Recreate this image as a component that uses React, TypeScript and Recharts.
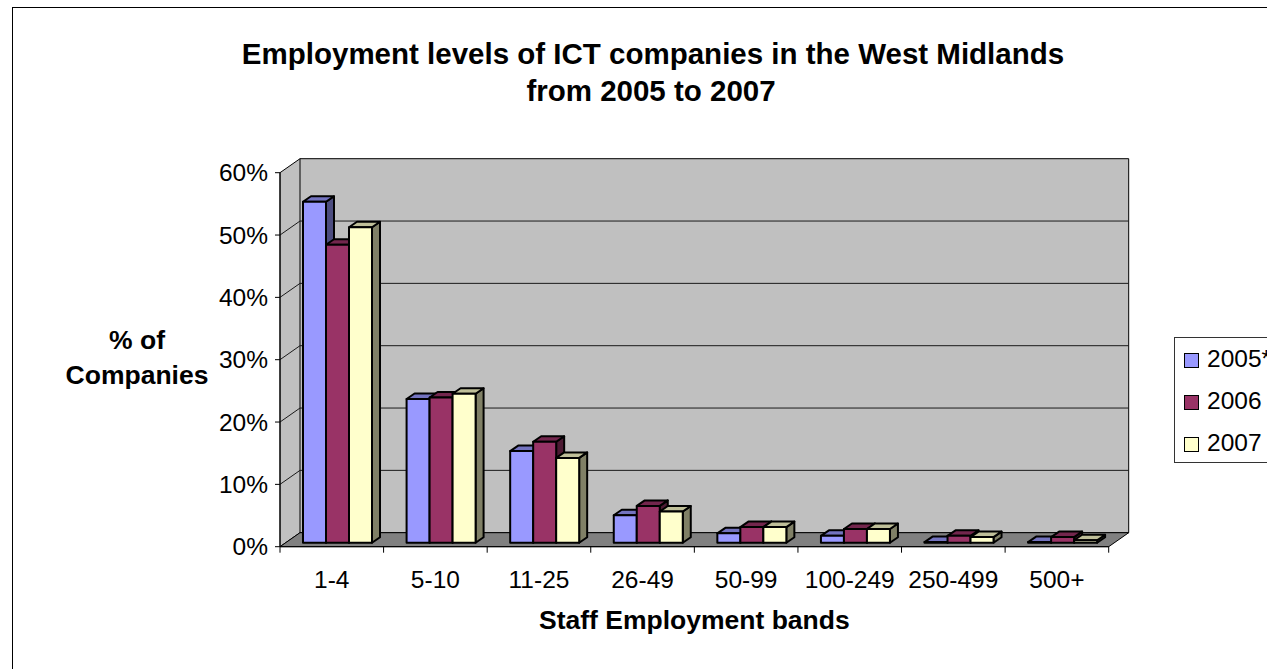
import { Bar, BarChart, Legend, ReferenceArea, XAxis, YAxis } from "recharts"

const bands = ["1-4", "5-10", "11-25", "26-49", "50-99", "100-249", "250-499", "500+"]
const values2005 = [54.7, 23.05, 14.7, 4.4, 1.5, 1.1, 0.1, 0.1]
const values2006 = [47.8, 23.3, 16.2, 5.9, 2.5, 2.2, 1.1, 0.9]
const values2007 = [50.6, 23.9, 13.6, 5.0, 2.5, 2.2, 0.9, 0.4]
const yTicks = [0, 10, 20, 30, 40, 50, 60]
const gridValues = [10, 20, 30, 40, 50]

const data = bands.map((band, i) => ({
  band,
  y2005: values2005[i],
  y2006: values2006[i],
  y2007: values2007[i],
}))

const FONT = "'Liberation Sans', Arial, sans-serif"
const WALL_DX = 20
const WALL_DY = -14
const PLOT_LEFT = 280
const PLOT_RIGHT = 1108.7
const PLOT_TOP = 172.7
const PLOT_BOTTOM = 546.7
const BAND = (PLOT_RIGHT - PLOT_LEFT) / bands.length

// back wall, side wall and floor of the fake 3D box
function Walls({ x, y, width, height }: any) {
  const r = x + width
  const b = y + height
  return (
    <g stroke="#000" strokeWidth={1}>
      <path d={`M${x} ${y}L${x + WALL_DX} ${y + WALL_DY}H${r + WALL_DX}V${b + WALL_DY}H${x + WALL_DX}L${x} ${b}Z`} fill="#c0c0c0" />
      <path d={`M${x} ${b}L${x + WALL_DX} ${b + WALL_DY}H${r + WALL_DX}L${r} ${b}Z`} fill="#808080" />
      <path d={`M${x + WALL_DX} ${y + WALL_DY}V${b + WALL_DY}`} fill="none" />
    </g>
  )
}

// grid line folded from the side wall onto the back wall
function GridLine({ x, y, width }: any) {
  return (
    <path
      d={`M${x} ${y}L${x + WALL_DX} ${y + WALL_DY}H${x + width + WALL_DX}`}
      fill="none"
      stroke="#1a1a1a"
      strokeWidth={1}
    />
  )
}

// bar with top and side faces, pushed to the middle of the box depth
function Bar3D({ x, y, width, height, fill, topFill, sideFill }: any) {
  const left = x + 6
  const top = y - 4
  const right = left + width
  const bottom = top + height
  const dx = 8
  const dy = -5.5
  return (
    <g stroke="#000" strokeWidth={2} strokeLinejoin="round">
      <path d={`M${right} ${top}L${right + dx} ${top + dy}V${bottom + dy}L${right} ${bottom}Z`} fill={sideFill} />
      <path d={`M${left} ${top}L${left + dx} ${top + dy}H${right + dx}L${right} ${top}Z`} fill={topFill} />
      <rect x={left} y={top} width={width} height={height} fill={fill} />
    </g>
  )
}

function BandTick({ x, y, payload, index }: any) {
  return (
    <g>
      <path d={`M${x - BAND / 2} ${y - 8}v6`} stroke="#000" strokeWidth={1} />
      {index === bands.length - 1 && <path d={`M${x + BAND / 2} ${y - 8}v6`} stroke="#000" strokeWidth={1} />}
      <text x={x} y={y + 33} textAnchor="middle" fontFamily={FONT} fontSize={24.5} fill="#000">
        {payload.value}
      </text>
    </g>
  )
}

function LegendBox({ payload }: any) {
  return (
    <div
      style={{
        width: 120,
        height: 126,
        boxSizing: "border-box",
        border: "1px solid #333",
        background: "#fff",
        padding: "0 0 0 9px",
        fontFamily: FONT,
        fontSize: 24.5,
        color: "#000",
      }}
    >
      {(payload || []).map((entry: any) => (
        <div key={entry.value} style={{ display: "flex", alignItems: "center", height: 42 }}>
          <span style={{ width: 13, height: 13, border: "1.5px solid #000", background: entry.color, marginRight: 8, marginTop: 3 }} />
          <span>{entry.value}</span>
        </div>
      ))}
    </div>
  )
}

export default function App() {
  return (
    <div style={{ position: "fixed", left: 0, top: 0, width: 1267, height: 669, overflow: "hidden", background: "#fff" }}>
      <div style={{ position: "absolute", left: 12, top: 7, right: 0, height: 1, background: "#000" }} />
      <div style={{ position: "absolute", left: 12, top: 7, bottom: 0, width: 1, background: "#000" }} />
      <BarChart
        width={1267}
        height={669}
        data={data}
        margin={{ top: PLOT_TOP, right: 1267 - PLOT_RIGHT, bottom: 0, left: 0 }}
        barCategoryGap={17}
        barGap={0}
      >
        <ReferenceArea y1={0} y2={60} shape={<Walls />} />
        {gridValues.map((v) => (
          <ReferenceArea key={v} y1={v} y2={v} shape={<GridLine />} />
        ))}
        <XAxis
          dataKey="band"
          height={669 - PLOT_BOTTOM}
          interval={0}
          tickLine={false}
          axisLine={{ stroke: "#000" }}
          tick={<BandTick />}
          label={{ value: "Staff Employment bands", position: "insideTop", dy: 58, fontFamily: FONT, fontSize: 26.5, fontWeight: 700, fill: "#000" }}
        />
        <YAxis
          width={PLOT_LEFT}
          domain={[0, 60]}
          ticks={yTicks}
          tickFormatter={(v: number) => `${v}%`}
          tickSize={5}
          tickMargin={7}
          axisLine={{ stroke: "#000" }}
          tickLine={{ stroke: "#000" }}
          tick={{ fontFamily: FONT, fontSize: 24.5, fill: "#000" }}
        />
        <Legend
          layout="horizontal"
          verticalAlign="middle"
          content={<LegendBox />}
          wrapperStyle={{ left: 1174, top: 337, width: 120, height: 126 }}
        />
        <Bar dataKey="y2005" name="2005*" fill="#9999ff" isAnimationActive={false} shape={<Bar3D topFill="#7373bf" sideFill="#4d4d80" />} />
        <Bar dataKey="y2006" name="2006" fill="#993366" isAnimationActive={false} shape={<Bar3D topFill="#73264d" sideFill="#4d1a33" />} />
        <Bar dataKey="y2007" name="2007" fill="#ffffcc" isAnimationActive={false} shape={<Bar3D topFill="#bfbf99" sideFill="#808066" />} />
        <text x={653} y={64} textAnchor="middle" fontFamily={FONT} fontSize={29.5} fontWeight={700} fill="#000">
          Employment levels of ICT companies in the West Midlands
        </text>
        <text x={651} y={101} textAnchor="middle" fontFamily={FONT} fontSize={29.5} fontWeight={700} fill="#000">
          from 2005 to 2007
        </text>
        <text x={137} y={349} textAnchor="middle" fontFamily={FONT} fontSize={26.5} fontWeight={700} fill="#000">
          % of
        </text>
        <text x={137} y={384} textAnchor="middle" fontFamily={FONT} fontSize={26.5} fontWeight={700} fill="#000">
          Companies
        </text>
      </BarChart>
    </div>
  )
}
